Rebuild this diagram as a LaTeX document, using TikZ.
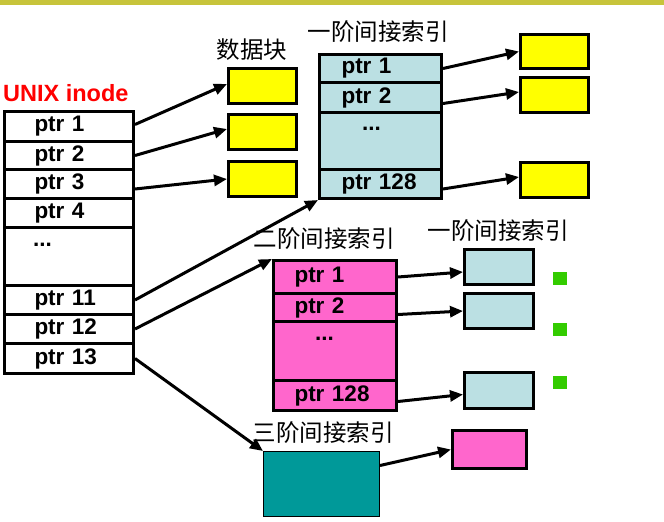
\documentclass[tikz,border=0pt]{standalone}
\usepackage{fontspec}
\setmainfont{Liberation Sans}
\newfontfamily\cjk{Noto Sans CJK SC}
\usetikzlibrary{arrows.meta}
\definecolor{barcol}{RGB}{199,196,59}
\definecolor{ylw}{RGB}{255,255,0}
\definecolor{lblue}{RGB}{187,224,227}
\definecolor{pnk}{RGB}{255,102,204}
\definecolor{tealbox}{RGB}{0,153,153}
\definecolor{grn}{RGB}{51,204,0}
\newcommand{\ptrfont}{\bfseries\fontsize{22.5}{22.5}\selectfont}
\newcommand{\cjkfont}{\cjk\fontsize{23.5}{23.5}\selectfont}
\tikzset{
  box/.style={draw, line width=3pt, inner sep=0pt, anchor=north west},
  inoderow/.style={box, fill=white, inner xsep=30pt, text width=69pt, align=left, font=\ptrfont, minimum height=#1},
  bluerow/.style={box, fill=lblue, inner xsep=22pt, text width=78pt, align=left, font=\ptrfont, minimum height=#1},
  pinkrow/.style={box, fill=pnk, inner xsep=21pt, text width=81pt, align=left, font=\ptrfont, minimum height=#1},
  datablk/.style={box, fill=ylw, minimum width=68pt, minimum height=#1},
  firstblk/.style={box, fill=lblue, minimum width=69pt, minimum height=#1},
  dotstext/.style={font=\ptrfont, inner sep=0pt, anchor=base west},
  cjklabel/.style={font=\cjkfont, inner sep=0pt},
  gsq/.style={fill=grn, inner sep=0pt, minimum width=14pt, minimum height=13pt, anchor=north west},
  arr/.style={line width=3pt, -{Triangle[length=13pt,width=11pt]}}
}
\begin{document}
\begin{tikzpicture}[x=1pt,y=-1pt]
\fill[white] (0,0) rectangle (664,522);
\useasboundingbox (0,0) rectangle (664,522);
\fill[barcol] (0,0) rectangle (664,5);

% labels
\node[font=\bfseries\fontsize{23.5}{23.5}\selectfont, text=red, inner sep=0pt, anchor=base west] (title) at (3,101) {UNIX inode};
\node[cjklabel] (lblData) at (252,50) {数据块};
\node[cjklabel] (lblOne) at (378,32) {一阶间接索引};
\node[cjklabel] (lblTwo) at (324,239) {二阶间接索引};
\node[cjklabel] (lblOneB) at (498,231) {一阶间接索引};
\node[cjklabel] (lblThree) at (323,433) {三阶间接索引};

% inode table
\node[inoderow=30pt] (in1) at (3,110) {ptr 1};
\node[inoderow=28pt] (in2) at (3,140) {ptr 2};
\node[inoderow=29pt] (in3) at (3,168) {ptr 3};
\node[inoderow=29pt] (in4) at (3,197) {ptr 4};
\node[inoderow=58pt] (indots) at (3,226) {};
\node[inoderow=29pt] (in11) at (3,284) {ptr 11};
\node[inoderow=29pt] (in12) at (3,313) {ptr 12};
\node[inoderow=30pt] (in13) at (3,342) {ptr 13};
\node[dotstext] (indotstxt) at (33,246) {...};

% data blocks
\node[datablk=35pt] (d1) at (227,67) {};
\node[datablk=35pt] (d2) at (227,113) {};
\node[datablk=35pt] (d3) at (227,160) {};

% single indirect table
\node[bluerow=28pt] (b1) at (318,53) {ptr 1};
\node[bluerow=30pt] (b2) at (318,81) {ptr 2};
\node[bluerow=57pt] (bdots) at (318,111) {};
\node[bluerow=29pt] (b128) at (318,168) {ptr 128};
\node[dotstext] (bdotstxt) at (362,130) {...};

\node[datablk=34pt] (e1) at (519,33) {};
\node[datablk=35pt] (e2) at (519,76) {};
\node[datablk=35pt] (e3) at (519,161) {};

% double indirect table
\node[pinkrow=33pt] (pk1) at (272,259) {ptr 1};
\node[pinkrow=28pt] (pk2) at (272,292) {ptr 2};
\node[pinkrow=59pt] (pkdots) at (272,320) {};
\node[pinkrow=30pt] (pk128) at (272,379) {ptr 128};
\node[dotstext] (pkdotstxt) at (315,340) {...};

\node[firstblk=35pt] (s1) at (463,248) {};
\node[firstblk=35pt] (s2) at (463,292) {};
\node[firstblk=36pt] (s3) at (463,371) {};

\node[gsq] (g1) at (553,272) {};
\node[gsq] (g2) at (553,323) {};
\node[gsq] (g3) at (553,376) {};

% triple indirect
\node[draw, line width=1pt, fill=tealbox, inner sep=0pt, anchor=north west, minimum width=116pt, minimum height=65pt] (tl) at (263,451) {};
\node[box, fill=pnk, minimum width=74pt, minimum height=38pt] (tp) at (451,429) {};

% arrows
\draw[arr] ([yshift=2pt]in1.east) -- ([yshift=2pt]d1.west);
\draw[arr] (in2.east) -- ([yshift=3pt]d2.west);
\draw[arr] ([yshift=-5pt]in3.east) -- (d3.west);
\draw[arr] (in11.east) -- (b128.south west);
\draw[arr] (in12.east) -- (pk1.north west);
\draw[arr] (in13.east) -- (tl.north west);

\draw[arr] (b1.east) -- (e1.west);
\draw[arr] ([yshift=-6pt]b2.east) -- ([yshift=3pt]e2.west);
\draw[arr] ([yshift=-5pt]b128.east) -- ([yshift=3pt]e3.west);

\draw[arr] (pk1.east) -- ([yshift=-5pt]s1.west);
\draw[arr] ([yshift=-7pt]pk2.east) -- (s2.west);
\draw[arr] ([yshift=-6pt]pk128.east) -- ([yshift=-4pt]s3.west);

\draw[arr] ([yshift=18.5pt]tl.east) -- (tp.west);
\end{tikzpicture}
\end{document}
